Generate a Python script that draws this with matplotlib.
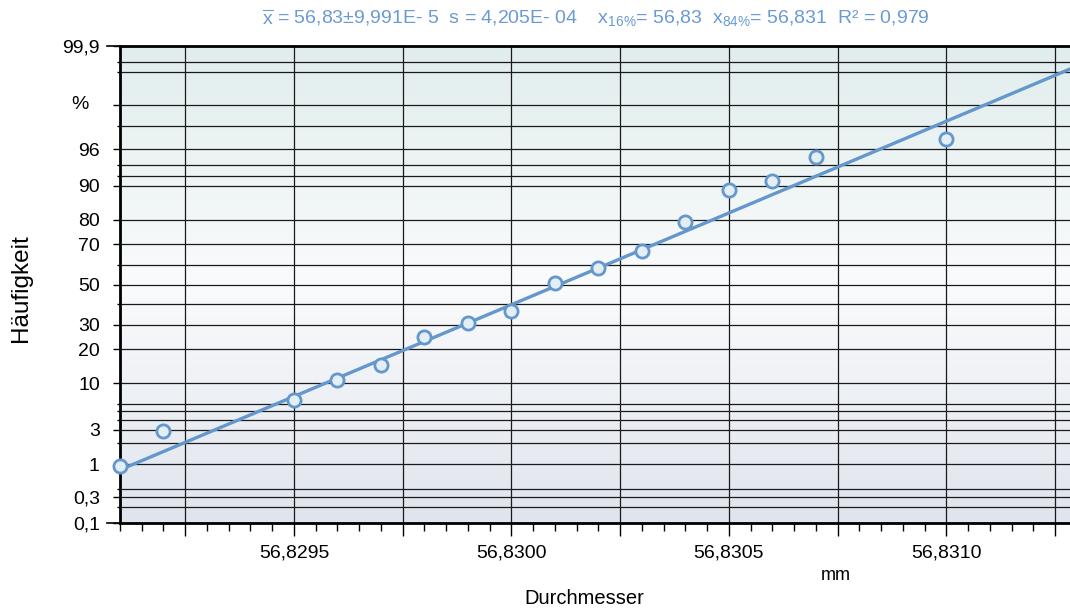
import numpy as np
import matplotlib
matplotlib.use('Agg')
import matplotlib.pyplot as plt
from matplotlib.colors import LinearSegmentedColormap
from matplotlib.ticker import MultipleLocator, FuncFormatter, FixedLocator
from statistics import NormalDist

plt.rcParams['font.family'] = ['Liberation Sans', 'DejaVu Sans']
plt.rcParams['mathtext.fontset'] = 'custom'
plt.rcParams['mathtext.rm'] = 'Liberation Sans'
plt.rcParams['mathtext.it'] = 'Liberation Sans'

# Messwerte (mm) und Summenhaeufigkeit (%)
diameter = [56.8291, 56.8292, 56.8295, 56.8296, 56.8297, 56.8298, 56.8299, 56.8300,
            56.8301, 56.8302, 56.8303, 56.8304, 56.8305, 56.8306, 56.8307, 56.8310]
freq = [0.94, 2.9, 6.7, 10.8, 14.8, 24.8, 30.9, 36.6,
        50.8, 58.5, 66.8, 79.1, 88.9, 91.0, 95.1, 97.0]

# Ausgleichsgerade der Normalverteilung
mean_fit = 56.83011
s_fit = 4.205e-4

# Wahrscheinlichkeitsnetz
y_major = [0.1, 0.3, 1, 3, 10, 20, 30, 50, 70, 80, 90, 96, 99, 99.9]
y_major_lbl = ['0,1', '0,3', '1', '3', '10', '20', '30', '50', '70', '80', '90', '96', '', '99,9']
y_minor = [0.2, 0.4, 2, 4, 5, 6, 40, 60, 92, 94, 98, 99.7, 99.8]

x_lo, x_hi = 56.8291, 56.831284

title = (r"$\overline{\mathrm{x}}$ = 56,83±9,991E- 5  s = 4,205E- 04    "
         r"x$_{16\%}$= 56,83  x$_{84\%}$= 56,831  R² = 0,979")

nd = NormalDist()


def z(p):
    return nd.inv_cdf(p / 100.0)


fig = plt.figure(figsize=(10.7, 6.12), dpi=100)
ax = fig.add_axes([120 / 1070, 1 - 523 / 612, 950 / 1070, 477 / 612])

# Hintergrundverlauf
bg = LinearSegmentedColormap.from_list('bg', [(0, '#dfe4ed'), (0.5, '#fafbfc'), (1, '#e1eded')])
ax.imshow(np.linspace(0, 1, 256).reshape(-1, 1), cmap=bg, origin='lower', aspect='auto',
          extent=[0, 1, 0, 1], transform=ax.transAxes, zorder=0)

# Gitter
for p in y_major + y_minor:
    ax.axhline(z(p), color='#1a1a1a', lw=0.9, zorder=1)
xgrid = np.arange(56.82925, x_hi, 0.00025)
for xv in xgrid:
    ax.axvline(xv, color='#1a1a1a', lw=0.9, zorder=1)

# Gerade und Punkte
xl = np.array([x_lo, x_hi])
ax.plot(xl, (xl - mean_fit) / s_fit, color='#6497cc', lw=2.4, zorder=3, clip_on=True)
ax.plot(diameter, [z(p) for p in freq], 'o', ms=9.5, mfc='#e4eef5', mec='#6497cc', mew=2,
        zorder=4, clip_on=False)

ax.set_xlim(x_lo, x_hi)
ax.set_ylim(z(0.1), z(99.9))

ax.yaxis.set_major_locator(FixedLocator([z(p) for p in y_major]))
ax.yaxis.set_major_formatter(FuncFormatter(lambda v, pos: y_major_lbl[pos] if pos is not None and pos < len(y_major_lbl) else ''))
ax.yaxis.set_minor_locator(FixedLocator([z(p) for p in y_minor]))

ax.xaxis.set_major_locator(MultipleLocator(0.00025))
ax.xaxis.set_minor_locator(MultipleLocator(0.00005))


def xfmt(v, pos):
    if abs(v / 0.0005 - round(v / 0.0005)) < 1e-3:
        return f"{v:.4f}".replace('.', ',')
    return ''


ax.xaxis.set_major_formatter(FuncFormatter(xfmt))

ax.tick_params(axis='y', which='major', direction='out', length=5, width=1, pad=9.5, labelsize=14)
ax.tick_params(axis='y', which='minor', direction='out', length=2.5, width=1)
ax.tick_params(axis='x', which='major', direction='out', length=9.5, width=1, pad=6, labelsize=14)
ax.tick_params(axis='x', which='minor', direction='out', length=5.5, width=1)

for side in ['left', 'bottom', 'top']:
    ax.spines[side].set_linewidth(2)
    ax.spines[side].set_color('black')
ax.spines['right'].set_visible(False)

# verlaengerte Randstriche bei 0,1 und 99,9
for yv in [0, 1]:
    ax.plot([-13 / 950, 0], [yv, yv], color='black', lw=1.2, transform=ax.transAxes, clip_on=False)

ax.text(-40 / 950, z(99), '%', transform=ax.get_yaxis_transform(), ha='center', va='center', fontsize=14)

fig.text(596 / 1070, 1 - 18 / 612, title, ha='center', va='center', fontsize=14, color='#6a9ad4')
fig.text(836 / 1070, 1 - 575 / 612, 'mm', ha='center', va='center', fontsize=13)
fig.text(584 / 1070, 1 - 598 / 612, 'Durchmesser', ha='center', va='center', fontsize=14.5)
fig.text(21 / 1070, 1 - 288 / 612, 'Häufigkeit', ha='center', va='center', fontsize=17.5, rotation=90)

fig.savefig('out.png', dpi=100)
